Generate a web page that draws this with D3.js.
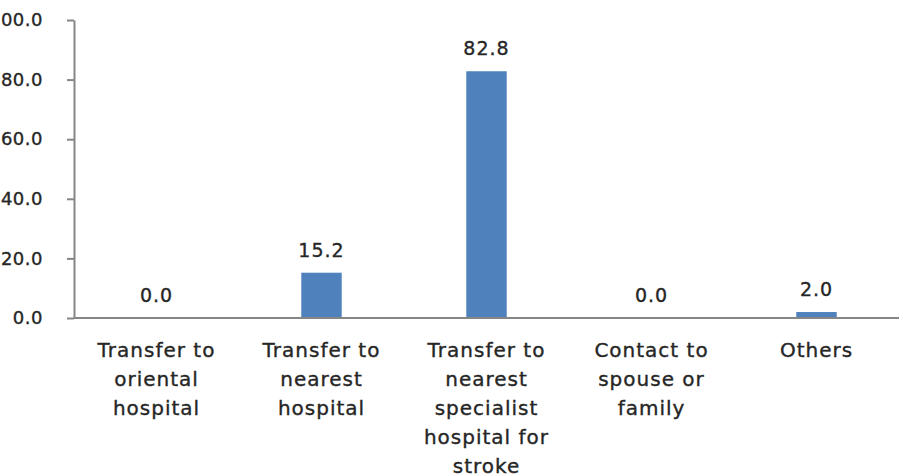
<!DOCTYPE html>
<html>
<head>
<meta charset="utf-8">
<script src="https://cdn.jsdelivr.net/npm/d3@7"></script>
<style>
  body { margin: 0; background: #fff; }
  svg { display: block; font-family: "DejaVu Sans", Verdana, sans-serif; }
  .lbl { fill: #262626; stroke: #262626; stroke-width: 0.35px; }
</style>
</head>
<body>
<svg class="chart" width="900" height="475"></svg>
<script>
// data
const categories = [
  ["Transfer to", "oriental", "hospital"],
  ["Transfer to", "nearest", "hospital"],
  ["Transfer to", "nearest", "specialist", "hospital for", "stroke"],
  ["Contact to", "spouse or", "family"],
  ["Others"]
];
const values = [0.0, 15.2, 82.8, 0.0, 2.0];
const yTicks = [0, 20, 40, 60, 80, 100];

let svg = d3.select(".chart");

let mLeft = 74, mRight = 899, mTop = 20, mBottom = 318;

let x = d3.scaleBand()
  .domain(d3.range(values.length))
  .range([mLeft, mRight])
  .paddingInner(0.755)
  .paddingOuter(0.3775);

let y = d3.scaleLinear()
  .domain([0, 100])
  .range([mBottom, mTop]);

// y axis
let yAxis = svg.append("g")
  .attr("transform", `translate(${mLeft},0)`)
  .call(d3.axisLeft(y)
    .tickValues(yTicks)
    .tickFormat(d3.format(".1f"))
    .tickSize(7)
    .tickSizeOuter(0)
    .tickPadding(24));

yAxis.select(".domain").attr("stroke", "#868686").attr("stroke-width", 2);
yAxis.selectAll(".tick line").attr("stroke", "#868686").attr("stroke-width", 2);
yAxis.selectAll(".tick text")
  .attr("class", "lbl")
  .style("font-size", "18px")
  .style("letter-spacing", "0.5px")
  .style("font-family", "DejaVu Sans, Verdana, sans-serif");

// bars
svg.selectAll(".bar")
  .data(values)
  .enter()
  .append("rect")
  .attr("class", "bar")
  .attr("x", (d, i) => x(i))
  .attr("width", x.bandwidth())
  .attr("y", d => y(d))
  .attr("height", d => y(0) - y(d))
  .attr("fill", "#4f81bd");

// x axis line
svg.append("line")
  .attr("x1", mLeft)
  .attr("x2", mRight)
  .attr("y1", y(0))
  .attr("y2", y(0))
  .attr("stroke", "#868686")
  .attr("stroke-width", 2);

// value labels
svg.selectAll(".val")
  .data(values)
  .enter()
  .append("text")
  .attr("class", "val lbl")
  .attr("x", (d, i) => x(i) + x.bandwidth() / 2)
  .attr("y", d => y(d) - 16)
  .attr("text-anchor", "middle")
  .style("font-size", "19px")
  .style("letter-spacing", "1px")
  .text(d => d3.format(".1f")(d));

// category labels
let cats = svg.selectAll(".cat")
  .data(categories)
  .enter()
  .append("text")
  .attr("class", "cat lbl")
  .attr("text-anchor", "middle")
  .style("font-size", "20px")
  .style("letter-spacing", "1px");

cats.selectAll("tspan")
  .data((d, i) => d.map(s => ({ s: s, i: i })))
  .enter()
  .append("tspan")
  .attr("x", d => x(d.i) + x.bandwidth() / 2)
  .attr("y", (d, j) => 357 + j * 29)
  .text(d => d.s);
</script>
</body>
</html>
